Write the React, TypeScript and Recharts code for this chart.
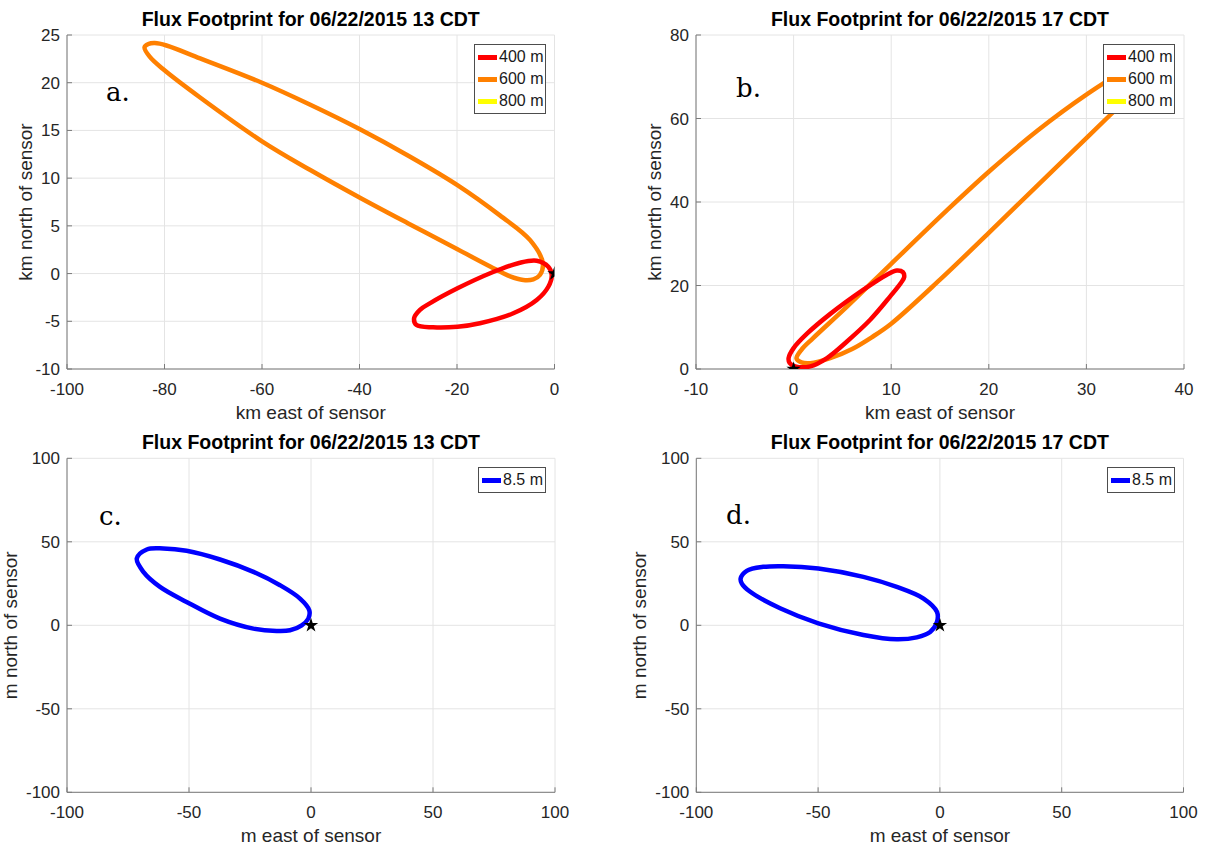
import React from "react";
import { ScatterChart, Scatter, XAxis, YAxis, CartesianGrid, Legend } from "recharts";

type Pt = [number, number];

// footprint outlines, 13 CDT (km)
const loop13At400: Pt[] = [
  [-28.8, -4.69], [-27.6, -3.8], [-25.5, -3.1], [-19.9, -1.55], [-13.2, 0.03], [-7.1, 1.14],
  [-3.65, 1.35], [-1.27, 0.72], [-0.57, -0.15], [-1.27, -1.38], [-3.65, -2.77], [-8.45, -4.16],
  [-15.3, -5.2], [-19.9, -5.57], [-24.9, -5.63], [-28.3, -5.39],
];
const loop13At600: Pt[] = [
  [-84.1, 23.7], [-83.3, 24.05], [-82, 24.15], [-79.6, 23.9], [-72.7, 22.55], [-60, 20],
  [-50.2, 17.72], [-40, 15.15], [-29.8, 12.3], [-20, 9.3], [-11.2, 6.1], [-5, 3.5], [-2.4, 1.1],
  [-3, -0.15], [-4.35, -0.6], [-6.4, -0.67], [-9.1, -0.3], [-13.2, 0.75], [-20, 2.58],
  [-30, 5.25], [-40, 7.97], [-50, 10.82], [-60, 13.86], [-72.7, 18.45], [-80, 21.3], [-83, 22.7],
];
// 17 CDT (km)
const loop17At400: Pt[] = [
  [-0.51, 2.63], [0, 5.0], [1.37, 8.45], [3.76, 13.2], [7.16, 19.0], [9.56, 22.6], [10.58, 23.6],
  [11.2, 23.2], [11.33, 22.0], [10.99, 20.6], [9.9, 17.4], [7.85, 11.8], [5.47, 6.6],
  [3.42, 2.63], [1.71, 0.63], [0.17, 0.63], [-0.41, 1.44],
];
const loop17At600: Pt[] = [
  [0.3, 2.5], [0.8, 4.6], [2, 7.4], [5.5, 15], [10, 25.2], [15.7, 38], [20, 47.25], [25, 57.1],
  [30, 65.7], [33, 70.1], [35.3, 72.2], [37, 72.6], [38, 71.6], [36.5, 70], [33.3, 62.8],
  [30, 55.3], [25, 44], [20, 32.6], [15, 21.4], [10, 10.85], [8, 7.6], [6, 4.8], [3.75, 2.6],
  [1.7, 1.4], [0.8, 1.6],
];
const loop800: Pt[] = [];
// 8.5 m tower (m)
const loop13At85: Pt[] = [
  [-71.4, 40], [-67.3, 45.4], [-60.5, 46], [-51, 44.6], [-37.3, 39.4], [-23.6, 32], [-12.7, 24],
  [-4.5, 16], [-0.7, 9], [-1.1, 4], [-3.8, 0], [-8.6, -3], [-14.1, -3.4], [-23.6, -2],
  [-37.3, 4], [-51, 14], [-61.9, 23], [-68.7, 32],
];
const loop17At85: Pt[] = [
  [-81.8, 28], [-79.3, 32.6], [-72.5, 35], [-64.3, 35.4], [-49.9, 34], [-31.4, 29], [-17.7, 23],
  [-6.7, 16], [-1.2, 8], [-1.2, 2], [-4, -4], [-9.5, -7.2], [-17.7, -8.4], [-31.4, -5.8],
  [-49.9, 1.2], [-65.6, 10.2], [-78, 20.2], [-81.3, 25],
];
const sensor: Pt[] = [[0, 0]];

const ticksKmX13 = [-100, -80, -60, -40, -20, 0];
const ticksKmY13 = [-10, -5, 0, 5, 10, 15, 20, 25];
const ticksKmX17 = [-10, 0, 10, 20, 30, 40];
const ticksKmY17 = [0, 20, 40, 60, 80];
const ticksM = [-100, -50, 0, 50, 100];

const FONT = "'Liberation Sans', Arial, Helvetica, sans-serif";
const RED = "#ff0000";
const ORANGE = "#ff8000";
const YELLOW = "#ffff00";
const BLUE = "#0000ff";

const toXY = (pts: Pt[]) => pts.map(([x, y]) => ({ x, y }));

// closed centripetal Catmull-Rom path through the scaled points
function closedPath(pts: { x: number; y: number }[]) {
  const n = pts.length;
  if (!n) return "";
  const eps = 1e-6;
  let d = `M${pts[0].x},${pts[0].y}`;
  for (let i = 0; i < n; i++) {
    const p0 = pts[(i - 1 + n) % n];
    const p1 = pts[i];
    const p2 = pts[(i + 1) % n];
    const p3 = pts[(i + 2) % n];
    const d01 = Math.hypot(p1.x - p0.x, p1.y - p0.y);
    const d12 = Math.hypot(p2.x - p1.x, p2.y - p1.y);
    const d23 = Math.hypot(p3.x - p2.x, p3.y - p2.y);
    const l01 = Math.sqrt(d01);
    const l12 = Math.sqrt(d12);
    const l23 = Math.sqrt(d23);
    let c1x = p1.x, c1y = p1.y, c2x = p2.x, c2y = p2.y;
    if (l01 > eps) {
      const a = 2 * d01 + 3 * l01 * l12 + d12;
      const m = 3 * l01 * (l01 + l12);
      c1x = (p1.x * a - p0.x * d12 + p2.x * d01) / m;
      c1y = (p1.y * a - p0.y * d12 + p2.y * d01) / m;
    }
    if (l23 > eps) {
      const b = 2 * d23 + 3 * l23 * l12 + d12;
      const m = 3 * l23 * (l23 + l12);
      c2x = (p2.x * b + p1.x * d23 - p3.x * d12) / m;
      c2y = (p2.y * b + p1.y * d23 - p3.y * d12) / m;
    }
    d += ` C${c1x},${c1y} ${c2x},${c2y} ${p2.x},${p2.y}`;
  }
  return d + " Z";
}

const loopLine = (color: string) => (props: any) => (
  <path d={closedPath(props.points || [])} fill="none" stroke={color} strokeWidth={4.5} strokeLinejoin="round" />
);

const noDot = () => <g />;

type Series = { name: string; color: string; pts: Pt[] };

type PanelCfg = {
  ox: number;
  oy: number;
  plot: [number, number, number, number];
  xDomain: [number, number];
  yDomain: [number, number];
  xTicks: number[];
  yTicks: number[];
  title: string;
  xLabel: string;
  yLabel: string;
  yLabelX: number;
  tag: string;
  tagPos: [number, number];
  series: Series[];
  legendPos: [number, number];
};

const W = 603;
const H = 425;
const YW = 50;
const XH = 30;

function LegendBox(props: any) {
  const items = [...(props.payload || [])]
    .filter((p: any) => p.type !== "none")
    .sort((a: any, b: any) => String(a.value).localeCompare(String(b.value)));
  return (
    <div
      style={{
        border: "1px solid #4d4d4d",
        background: "#fff",
        padding: "1px 2px 1px 3px",
        fontFamily: FONT,
        fontSize: 16,
        color: "#1a1a1a",
      }}
    >
      {items.map((p: any) => (
        <div key={p.value} style={{ display: "flex", alignItems: "center", height: 22 }}>
          <span style={{ display: "inline-block", width: 19, height: 5, background: p.color, marginRight: 2 }} />
          <span>{p.value}</span>
        </div>
      ))}
    </div>
  );
}

function Panel({ cfg }: { cfg: PanelCfg }) {
  const [x0, y0, x1, y1] = cfg.plot;
  const { ox, oy } = cfg;
  const margin = { top: y0 - oy, left: x0 - ox - YW, right: ox + W - x1, bottom: oy + H - y1 - XH };
  const cx = (x0 + x1) / 2 - ox;
  const cy = (y0 + y1) / 2 - oy;
  const tickStyle = { fontSize: 17, fill: "#262626", fontFamily: FONT };
  const axisLine = { stroke: "#7a7a7a", strokeWidth: 1 };
  return (
    <div style={{ position: "absolute", left: ox, top: oy, width: W, height: H }}>
      <ScatterChart width={W} height={H} margin={margin}>
        <CartesianGrid stroke="#e4e4e4" strokeWidth={1} />
        <XAxis
          type="number"
          dataKey="x"
          domain={cfg.xDomain}
          ticks={cfg.xTicks}
          height={XH}
          tick={tickStyle}
          tickSize={-5}
          tickMargin={18.5}
          axisLine={axisLine}
          tickLine={{ stroke: "#7a7a7a" }}
          allowDataOverflow
        />
        <YAxis
          type="number"
          dataKey="y"
          domain={cfg.yDomain}
          ticks={cfg.yTicks}
          width={YW}
          tick={tickStyle}
          tickSize={-5}
          tickMargin={12}
          axisLine={axisLine}
          tickLine={{ stroke: "#7a7a7a" }}
          allowDataOverflow
        />
        <XAxis
          xAxisId="top"
          orientation="top"
          type="number"
          dataKey="x"
          domain={cfg.xDomain}
          ticks={cfg.xTicks}
          height={0}
          tick={false}
          tickSize={-5}
          axisLine={axisLine}
          tickLine={{ stroke: "#7a7a7a" }}
        />
        <YAxis
          yAxisId="right"
          orientation="right"
          type="number"
          dataKey="y"
          domain={cfg.yDomain}
          ticks={cfg.yTicks}
          width={0}
          tick={false}
          tickSize={-5}
          axisLine={axisLine}
          tickLine={{ stroke: "#7a7a7a" }}
        />
        {[...cfg.series].reverse().map((s) => (
          <Scatter
            key={s.name}
            name={s.name}
            data={toXY(s.pts)}
            fill={s.color}
            shape={noDot}
            line={loopLine(s.color)}
            lineType="joint"
            legendType="line"
            isAnimationActive={false}
          />
        ))}
        <Scatter
          name="sensor"
          data={toXY(sensor)}
          fill="#000"
          shape="star"
          size={40}
          legendType="none"
          isAnimationActive={false}
        />
        <Legend
          layout="vertical"
          align="center"
          verticalAlign="middle"
          content={LegendBox}
          wrapperStyle={{ left: cfg.legendPos[0] - ox, top: cfg.legendPos[1] - oy, width: "auto" }}
        />
        <text x={cx} y={y0 - oy - 9} textAnchor="middle" fontFamily={FONT} fontWeight="bold" fontSize={19.5} fill="#000">
          {cfg.title}
        </text>
        <text x={cx} y={y1 - oy + 50} textAnchor="middle" fontFamily={FONT} fontSize={19} fill="#262626">
          {cfg.xLabel}
        </text>
        <text
          x={cfg.yLabelX - ox}
          y={cy}
          textAnchor="middle"
          fontFamily={FONT}
          fontSize={19}
          fill="#262626"
          transform={`rotate(-90 ${cfg.yLabelX - ox} ${cy})`}
        >
          {cfg.yLabel}
        </text>
        <text x={cfg.tagPos[0] - ox} y={cfg.tagPos[1] - oy} fontFamily="'DejaVu Serif', serif" fontSize={26} fill="#000">
          {cfg.tag}
        </text>
      </ScatterChart>
    </div>
  );
}

const panels: PanelCfg[] = [
  {
    ox: 0, oy: 0, plot: [67, 35, 554.5, 369],
    xDomain: [-100, 0], yDomain: [-10, 25], xTicks: ticksKmX13, yTicks: ticksKmY13,
    title: "Flux Footprint for 06/22/2015 13 CDT", xLabel: "km east of sensor", yLabel: "km north of sensor",
    yLabelX: 32, tag: "a.", tagPos: [106, 101],
    series: [
      { name: "400 m", color: RED, pts: loop13At400 },
      { name: "600 m", color: ORANGE, pts: loop13At600 },
      { name: "800 m", color: YELLOW, pts: loop800 },
    ],
    legendPos: [474, 44],
  },
  {
    ox: 603, oy: 0, plot: [696, 35, 1184, 369],
    xDomain: [-10, 40], yDomain: [0, 80], xTicks: ticksKmX17, yTicks: ticksKmY17,
    title: "Flux Footprint for 06/22/2015 17 CDT", xLabel: "km east of sensor", yLabel: "km north of sensor",
    yLabelX: 661, tag: "b.", tagPos: [736, 97],
    series: [
      { name: "400 m", color: RED, pts: loop17At400 },
      { name: "600 m", color: ORANGE, pts: loop17At600 },
      { name: "800 m", color: YELLOW, pts: loop800 },
    ],
    legendPos: [1103, 44],
  },
  {
    ox: 0, oy: 425, plot: [67, 458.3, 555, 792.3],
    xDomain: [-100, 100], yDomain: [-100, 100], xTicks: ticksM, yTicks: ticksM,
    title: "Flux Footprint for 06/22/2015 13 CDT", xLabel: "m east of sensor", yLabel: "m north of sensor",
    yLabelX: 17, tag: "c.", tagPos: [99, 525],
    series: [{ name: "8.5 m", color: BLUE, pts: loop13At85 }],
    legendPos: [478, 467],
  },
  {
    ox: 603, oy: 425, plot: [696.3, 458.3, 1183.5, 792.3],
    xDomain: [-100, 100], yDomain: [-100, 100], xTicks: ticksM, yTicks: ticksM,
    title: "Flux Footprint for 06/22/2015 17 CDT", xLabel: "m east of sensor", yLabel: "m north of sensor",
    yLabelX: 646, tag: "d.", tagPos: [726, 524],
    series: [{ name: "8.5 m", color: BLUE, pts: loop17At85 }],
    legendPos: [1107, 467],
  },
];

export default function App() {
  return (
    <div style={{ position: "absolute", left: 0, top: 0, width: 1206, height: 850, background: "#fff" }}>
      {panels.map((p, i) => (
        <Panel key={i} cfg={p} />
      ))}
    </div>
  );
}
